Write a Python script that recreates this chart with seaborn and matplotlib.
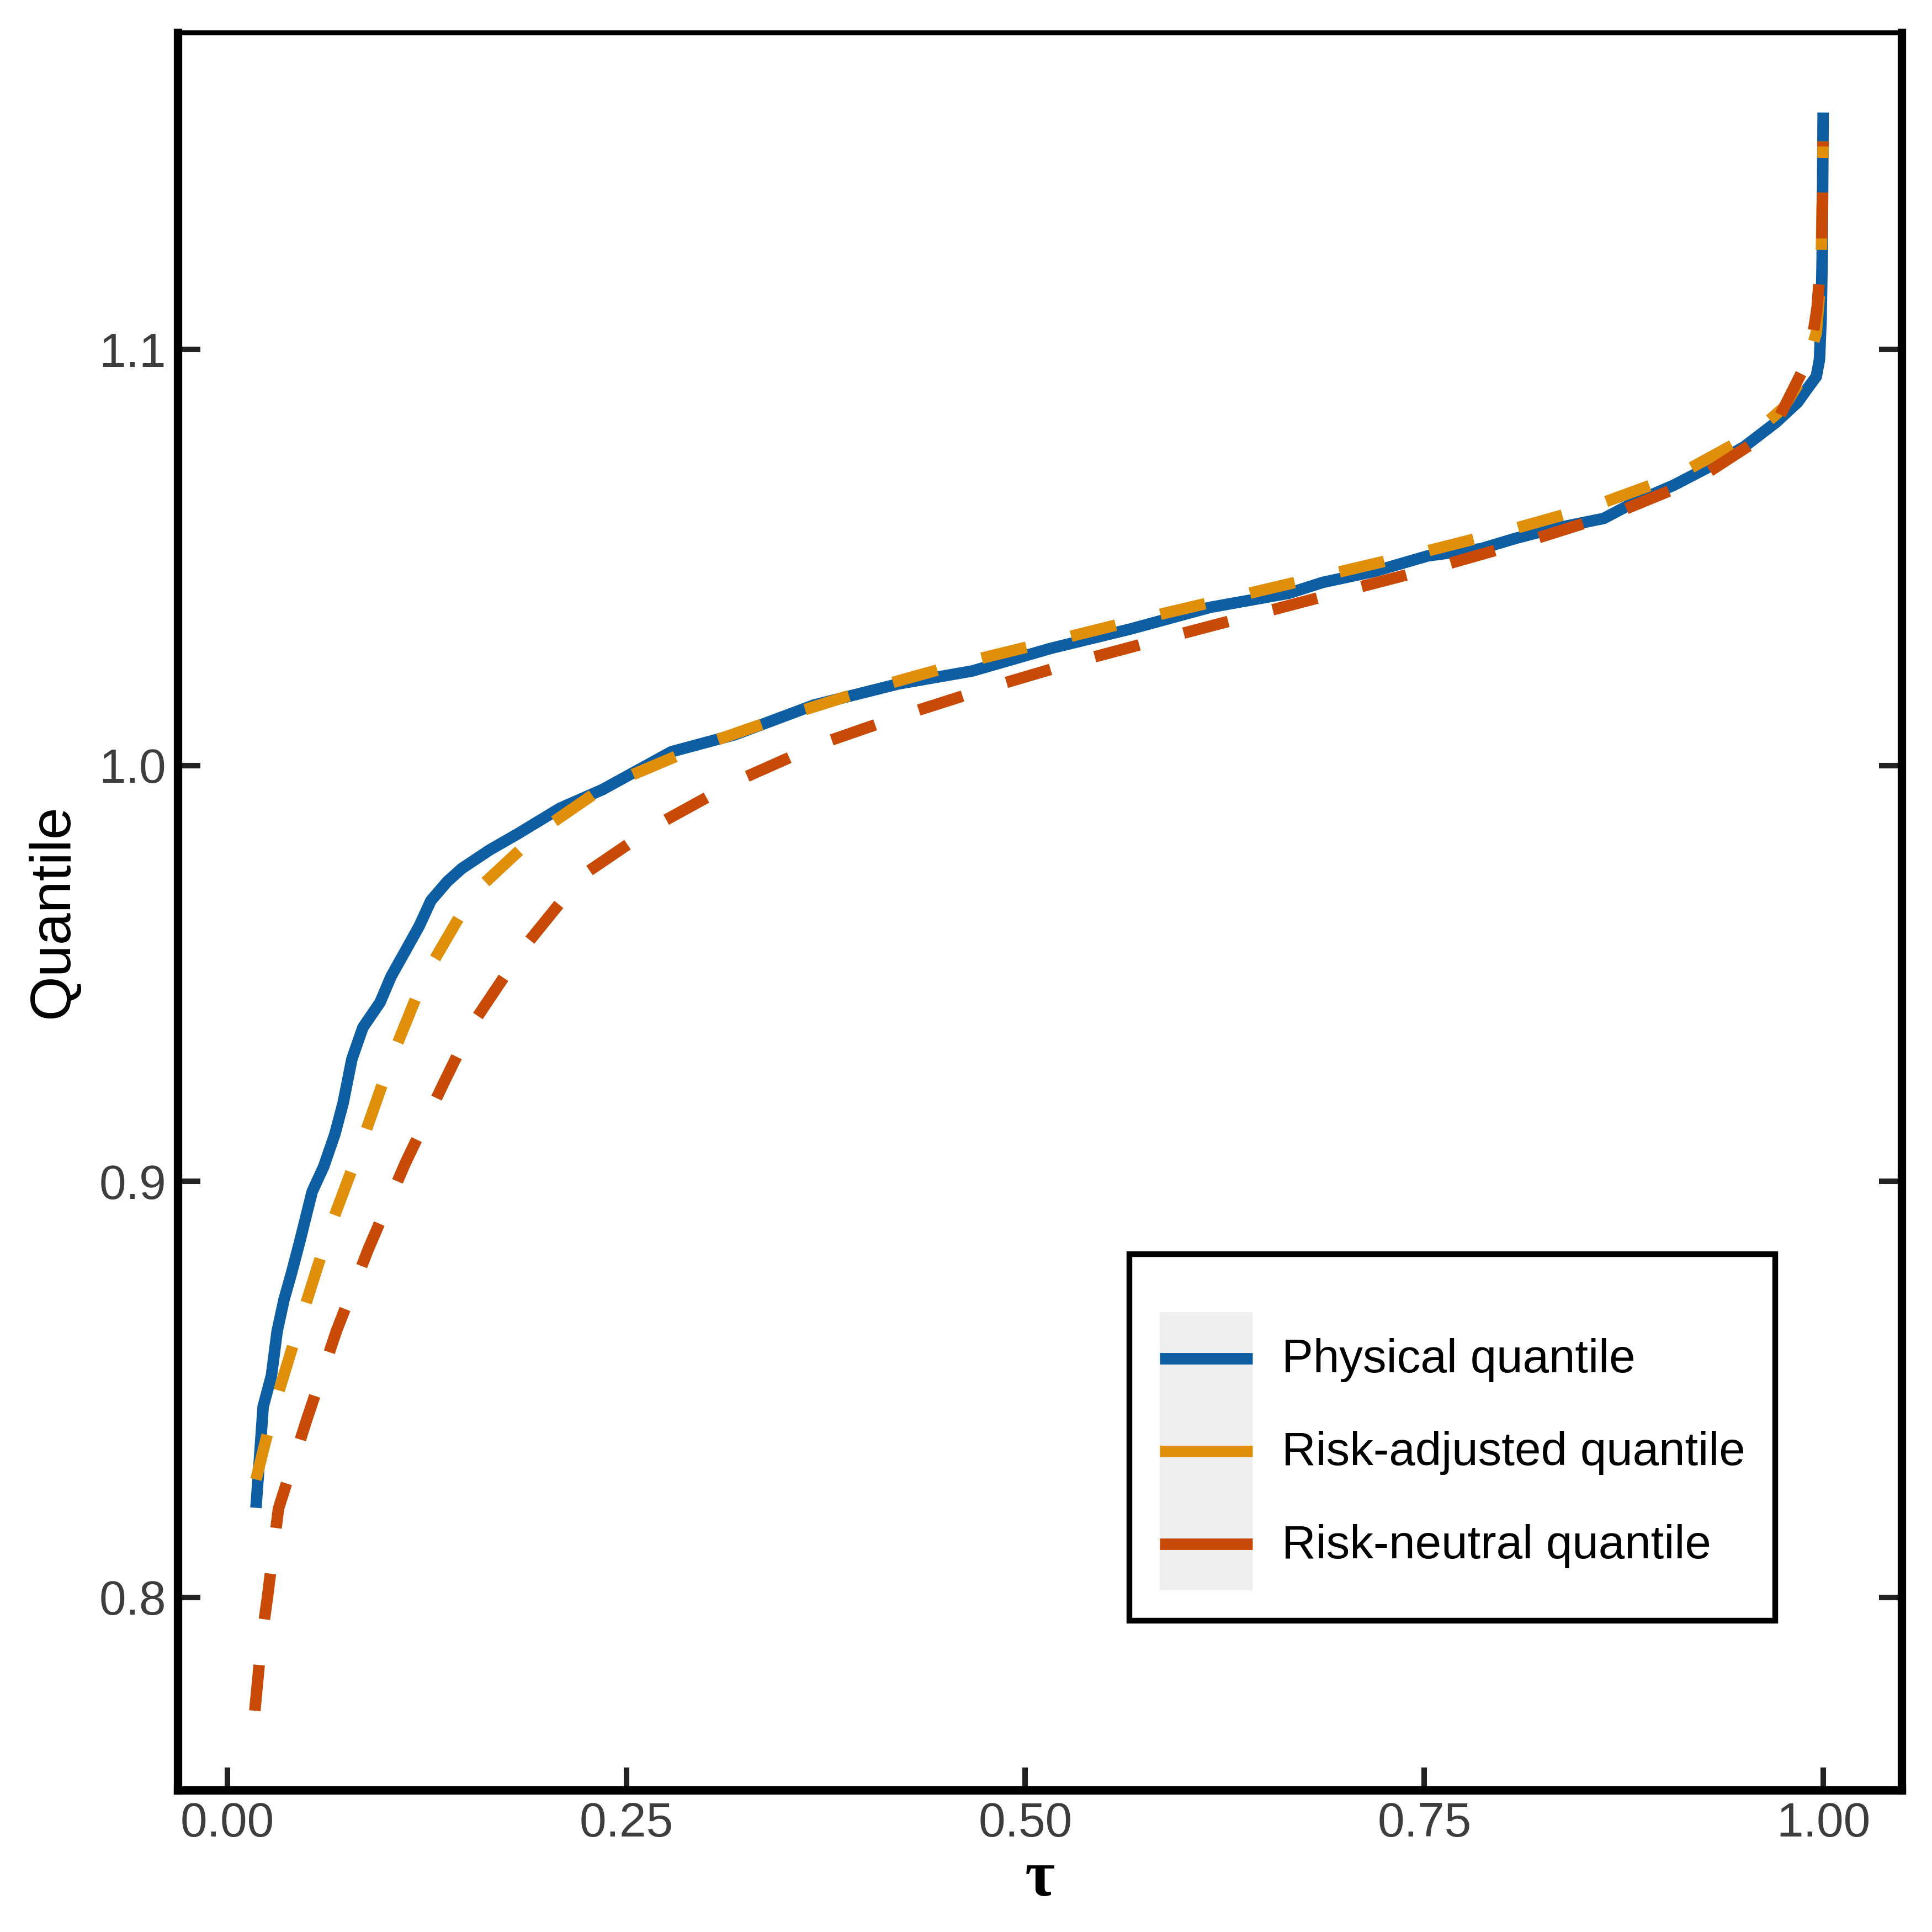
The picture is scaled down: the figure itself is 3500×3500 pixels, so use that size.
import numpy as np
import pandas as pd
import matplotlib
matplotlib.use("Agg")
import matplotlib.pyplot as plt
import seaborn as sns
from matplotlib.lines import Line2D
from matplotlib.patches import Patch
from matplotlib.legend_handler import HandlerLine2D, HandlerTuple

# значения
tau_phys = [0.018, 0.0197, 0.0225, 0.0277, 0.0313, 0.0356, 0.0401, 0.0453, 0.0532, 0.0605,
            0.0674, 0.0726, 0.0781, 0.085, 0.0957, 0.1027, 0.1116, 0.1203, 0.1276, 0.1379,
            0.1469, 0.1645, 0.1822, 0.2084, 0.2351, 0.2783, 0.318, 0.3674, 0.4203, 0.4666,
            0.5164, 0.5658, 0.6156, 0.665, 0.6862, 0.719, 0.7522, 0.7853, 0.8071, 0.8292,
            0.8624, 0.8821, 0.9063, 0.9309, 0.9506, 0.9703, 0.9838, 0.9903, 0.9955, 0.9975,
            0.9985, 0.9992, 0.9998]
q_phys = [0.8215, 0.8305, 0.8458, 0.8533, 0.864, 0.8716, 0.8777, 0.8853, 0.8975, 0.9036,
          0.9113, 0.9188, 0.9294, 0.937, 0.943, 0.9493, 0.9554, 0.9614, 0.9675, 0.9721,
          0.9752, 0.9797, 0.9836, 0.9897, 0.9942, 1.0033, 1.0074, 1.0145, 1.0196, 1.0227,
          1.0282, 1.0328, 1.038, 1.0414, 1.044, 1.0467, 1.0504, 1.0521, 1.0546, 1.0568,
          1.0594, 1.0634, 1.0674, 1.0723, 1.0767, 1.0825, 1.0873, 1.0908, 1.0935, 1.0976,
          1.107, 1.122, 1.157]

tau_adj = [0.018, 0.0294, 0.0463, 0.0639, 0.0833, 0.1027, 0.1237, 0.1538, 0.1963, 0.2368,
           0.2997, 0.3543, 0.4089, 0.4642, 0.5195, 0.5752, 0.6315, 0.6799, 0.7428, 0.7985,
           0.8534, 0.9077, 0.9571, 0.975, 0.9879, 0.9955, 0.9985, 0.9998]
q_adj = [0.8283, 0.8458, 0.867, 0.8883, 0.9082, 0.9294, 0.9493, 0.9691, 0.9843, 0.995,
         1.0052, 1.0125, 1.0191, 1.025, 1.0302, 1.0355, 1.0406, 1.045, 1.0507, 1.0561,
         1.062, 1.0696, 1.08, 1.086, 1.094, 1.104, 1.118, 1.150]

tau_rn = [0.0173, 0.0214, 0.0252, 0.0321, 0.0498, 0.0684, 0.0885, 0.1116, 0.1362, 0.1538,
          0.1856, 0.2226, 0.2682, 0.3194, 0.3716, 0.4265, 0.4805, 0.5354, 0.5911, 0.6467,
          0.7024, 0.7577, 0.8127, 0.8673, 0.9205, 0.9682, 0.9914, 0.996, 0.999, 0.9998]
q_rn = [0.7727, 0.7894, 0.80, 0.8213, 0.8427, 0.864, 0.8838, 0.9044, 0.9241, 0.9379,
        0.9561, 0.9736, 0.9855, 0.9963, 1.0052, 1.0125, 1.0191, 1.0253, 1.031, 1.0366,
        1.0422, 1.0477, 1.0537, 1.0603, 1.0687, 1.0806, 1.0984, 1.11, 1.125, 1.150]

labels = ["Physical quantile", "Risk-adjusted quantile", "Risk-neutral quantile"]
colors = ["#0D5EA3", "#DF8F0A", "#C94A06"]


# линия ключа по центру серого квадрата (как в ggplot)
class CenteredLine(HandlerLine2D):
    def create_artists(self, legend, orig_handle, xdescent, ydescent,
                       width, height, fontsize, trans):
        arts = super().create_artists(legend, orig_handle, xdescent, ydescent,
                                      width, height, fontsize, trans)
        for a in arts:
            n = len(a.get_xdata())
            a.set_ydata([height / 2 - ydescent] * n)
        return arts


sns.set_theme(style="white")
plt.rcParams["font.family"] = ["Liberation Sans", "DejaVu Sans"]

fig = plt.figure(figsize=(7, 7), dpi=500)
ax = fig.add_axes([0.092, 0.0734, 0.8923, 0.9097])

sns.lineplot(x=tau_phys, y=q_phys, color=colors[0], linewidth=3, estimator=None,
             solid_capstyle="butt", ax=ax)
sns.lineplot(x=tau_adj, y=q_adj, color=colors[1], linewidth=3, estimator=None,
             linestyle=(0, (4, 4)), ax=ax)
sns.lineplot(x=tau_rn, y=q_rn, color=colors[2], linewidth=3, estimator=None,
             linestyle=(0, (4, 4)), ax=ax)

ax.set_xlim(-0.031, 1.049)
ax.set_ylim(0.7536, 1.1762)
ax.set_xticks([0, 0.25, 0.5, 0.75, 1.0])
ax.set_xticklabels(["0.00", "0.25", "0.50", "0.75", "1.00"])
ax.set_yticks([0.8, 0.9, 1.0, 1.1])
ax.set_yticklabels(["0.8", "0.9", "1.0", "1.1"])

ax.tick_params(axis="both", direction="in", length=5.9, width=1.45, color="#222222",
               labelsize=12.6, labelcolor="#3D3D3D", pad=3)
ax.tick_params(axis="y", right=True, left=True)
ax.tick_params(axis="x", bottom=True, top=False)

for side in ["left", "bottom", "right"]:
    ax.spines[side].set_linewidth(2.2)
    ax.spines[side].set_color("black")
ax.spines["top"].set_linewidth(1.3)
ax.spines["top"].set_color("black")

ax.set_xlabel("τ", fontsize=17, family=["Liberation Serif", "DejaVu Serif"],
              fontweight="bold", color="black", labelpad=1)
ax.set_ylabel("Quantile", fontsize=15, color="black", labelpad=5)

handles = [(Patch(facecolor="#EFEFEF", edgecolor="none"),
            Line2D([], [], color=c, linewidth=3, solid_capstyle="butt")) for c in colors]
leg = ax.legend(handles, labels, loc="upper left", bbox_to_anchor=(0.552, 0.305),
                fontsize=12.3, frameon=True, fancybox=False, framealpha=1,
                edgecolor="black", borderpad=0.64, borderaxespad=0,
                handlelength=1.97, handleheight=2.65, labelspacing=0,
                handletextpad=0.62, title=" ", title_fontsize=7.6,
                handler_map={Line2D: CenteredLine(marker_pad=0.2),
                             tuple: HandlerTuple(ndivide=1, pad=0)})
leg.get_frame().set_linewidth(1.5)
for t in leg.get_texts():
    t.set_color("black")

fig.savefig("out.png", dpi=500, facecolor="white")
